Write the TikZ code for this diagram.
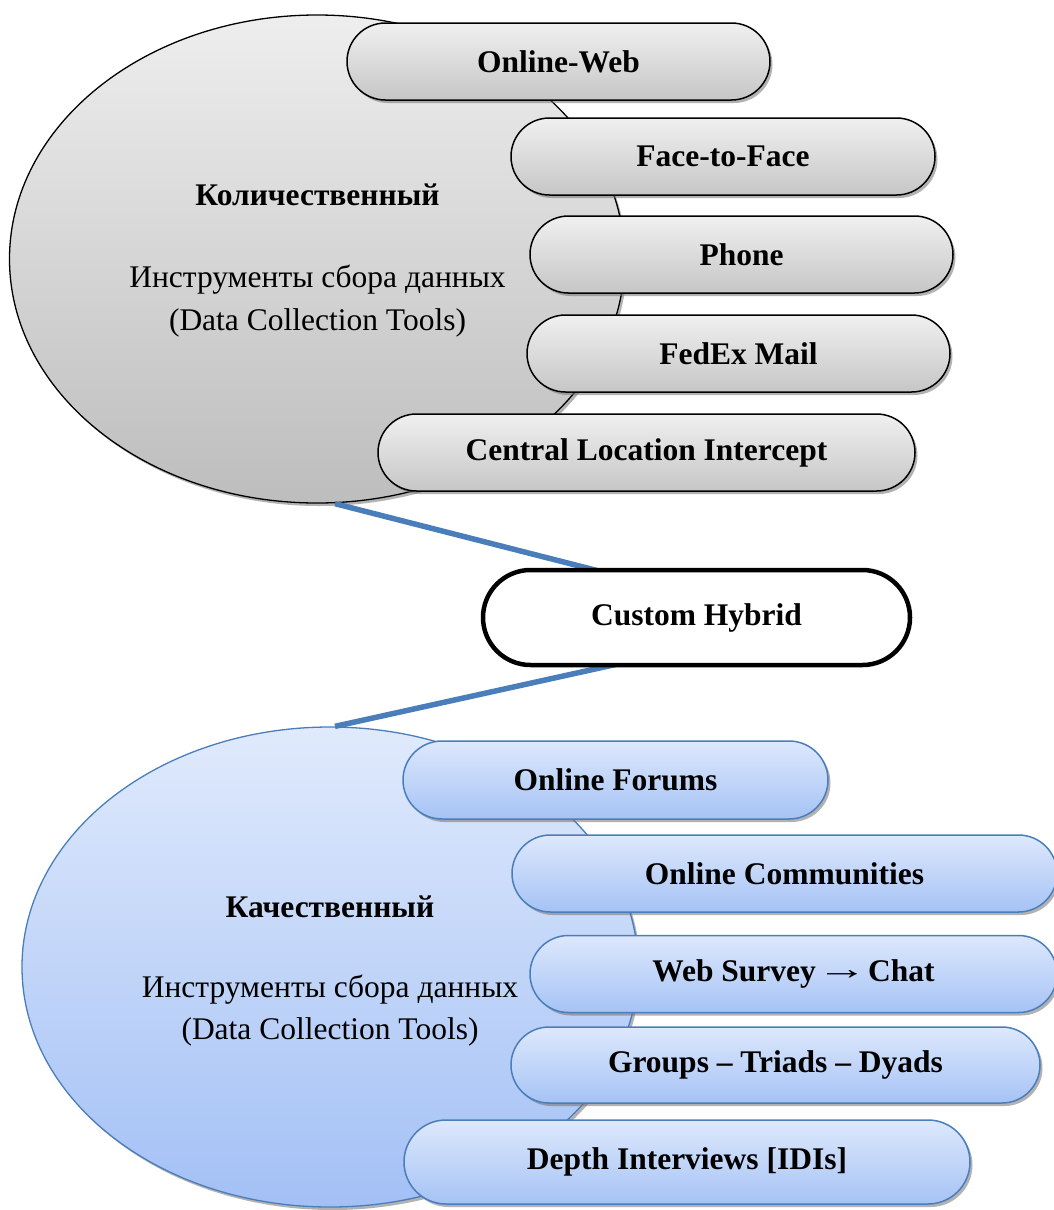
\documentclass[tikz,border=0pt]{standalone}
\usepackage{fontspec}
\usepackage{graphicx}
\setmainfont{Liberation Serif}
\usetikzlibrary{shapes.geometric,shapes.misc,shadows}
\definecolor{gtop}{HTML}{EEEEEE}
\definecolor{gbot}{HTML}{BDBDBD}
\definecolor{gptop}{HTML}{F0F0F0}
\definecolor{gpbot}{HTML}{C6C6C6}
\definecolor{btop}{HTML}{E0EAFC}
\definecolor{bbot}{HTML}{A3C0F5}
\definecolor{bptop}{HTML}{DDE8FC}
\definecolor{bpbot}{HTML}{A6C3F5}
\definecolor{bline}{HTML}{4A7EBB}
\newcommand{\widearrow}{\hspace{-7pt}\raisebox{2pt}{\scalebox{1.6}[1.0]{→}}\hspace{-7pt}}
\begin{document}
\begin{tikzpicture}[x=1pt,y=-1pt,
  txt/.style={font=\fontsize{31.5}{36}\selectfont, inner sep=0pt},
  ttl/.style={font=\fontsize{31.5}{36}\selectfont\bfseries, inner sep=0pt},
  shad/.style={drop shadow={shadow xshift=2.5pt, shadow yshift=-3pt, fill=black!55, opacity=0.55}},
  blob/.style={ellipse, inner sep=0pt, minimum width=615pt, minimum height=488pt, shad},
  grayblob/.style={blob, draw=black, line width=1.3pt, top color=gtop, bottom color=gbot},
  blueblob/.style={blob, draw=bline, line width=1.3pt, top color=btop, bottom color=bbot},
  pill/.style={rounded rectangle, inner sep=0pt, minimum height=77pt, shad,
    font=\fontsize{31.5}{36}\selectfont\bfseries},
  graypill/.style={pill, draw=black, line width=1.5pt, top color=gptop, bottom color=gpbot},
  bluepill/.style={pill, draw=bline, line width=1.5pt, top color=bptop, bottom color=bpbot},
  hybridpill/.style={rounded rectangle, inner sep=0pt, minimum height=95pt, minimum width=427pt,
    draw=black, line width=4.5pt, fill=white, font=\fontsize{31.5}{36}\selectfont\bfseries},
  link/.style={draw=bline, line width=5.5pt}]
\useasboundingbox (0,0) rectangle (1053,1210);

% quantitative group
\node[grayblob] (quant) at (317,259) {};
\node[ttl] (quantttl) at (317.5,195) {Количественный};
\node[txt] (quantsub) at (317.5,280) {Инструменты сбора данных};
\node[txt] (quanteng) at (317.5,323) {(Data Collection Tools)};

\node[graypill, minimum width=423pt] (ow) at (558.5,61.5) {Online-Web};
\node[graypill, minimum width=424pt] (ff) at (723,156.5) {Face-to-Face};
\node[graypill, minimum width=423pt] (ph) at (741.5,254.5) {Phone};
\node[graypill, minimum width=423pt] (fx) at (738.5,353.5) {FedEx Mail};
\node[graypill, minimum width=537pt] (cl) at (646.5,452.5) {Central Location Intercept};

% qualitative group
\node[blueblob, minimum width=616pt, minimum height=480pt] (qual) at (330,967) {};
\node[ttl] (qualttl) at (330,907) {Качественный};
\node[txt] (qualsub) at (330,990) {Инструменты сбора данных};
\node[txt] (qualeng) at (330,1032) {(Data Collection Tools)};

\node[bluepill, minimum width=425pt, minimum height=78pt] (of) at (615.5,780) {Online Forums};
\node[bluepill, minimum width=545pt] (oc) at (784.5,873.5) {Online Communities};
\node[bluepill, minimum width=527pt] (ws) at (793.5,974) {Web Survey \widearrow{} Chat};
\node[bluepill, minimum width=529pt, minimum height=76pt] (gt) at (775.5,1065) {Groups – Triads – Dyads};
\node[bluepill, minimum width=566pt, minimum height=84pt] (di) at (687,1162) {Depth Interviews [IDIs]};

% hybrid link (shifts are in canvas direction: positive yshift goes up)
\coordinate (hybc) at (696.5,617.5);
\draw[link] ([xshift=18pt]quant.south) -- ([xshift=-99.5pt,yshift=47pt]hybc);
\draw[link] ([xshift=-72pt,yshift=-45pt]hybc) -- ([xshift=5pt]qual.north);
\node[hybridpill] (hyb) at (hybc) {Custom Hybrid};
\end{tikzpicture}
\end{document}
